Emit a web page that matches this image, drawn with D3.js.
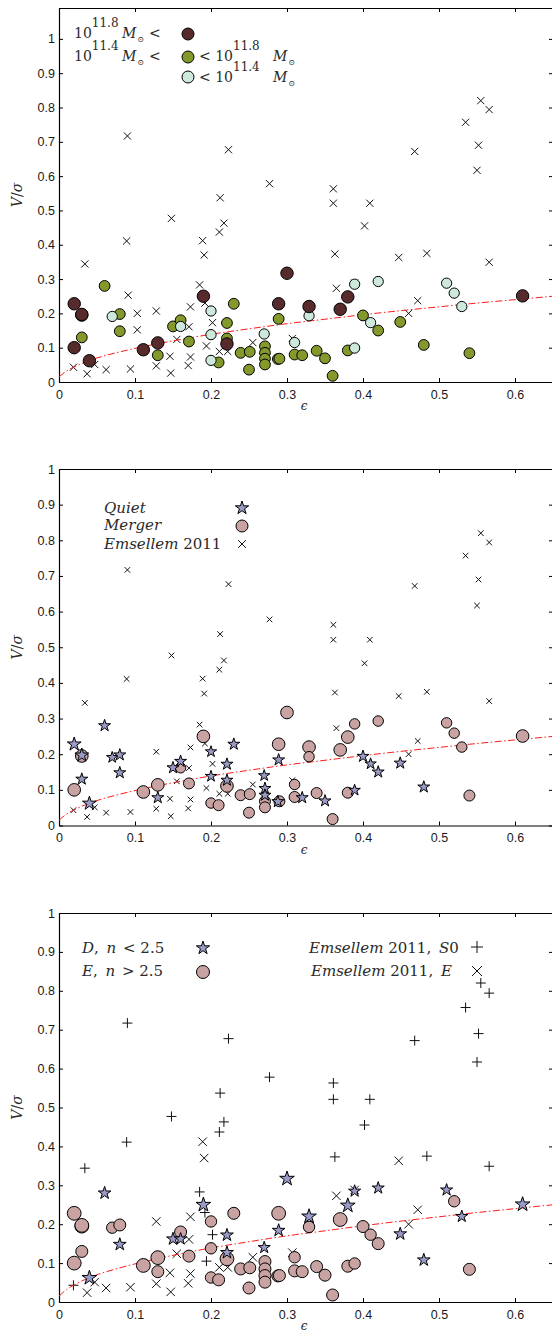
<!DOCTYPE html>
<html>
<head>
<meta charset="utf-8">
<script src="https://cdn.jsdelivr.net/npm/d3@7"></script>
<style>
  body { margin: 0; background: #fff; }
  svg { display: block; }
  .axis text { font-family: "Liberation Sans", Arial, sans-serif; font-size: 12.5px; fill: #1a1a1a; }
  .axis path, .axis line { stroke: #000; }
  .math { font-family: "DejaVu Serif", serif; fill: #2a2a2a; }
</style>
</head>
<body>
<script>
const W = 552, H = 1336;
const LEFT = 59, RIGHT = 553;

// simulated galaxies: ellipticity, V/sigma, stellar mass class, merger flag, disk (n < 2.5) flag
const simEps = [0.020, 0.030, 0.030, 0.020, 0.030, 0.040, 0.060, 0.070, 0.080, 0.080,
  0.111, 0.130, 0.130, 0.150, 0.160, 0.160, 0.171, 0.190, 0.200, 0.200,
  0.200, 0.210, 0.221, 0.221, 0.221, 0.230, 0.239, 0.251, 0.250, 0.270,
  0.271, 0.271, 0.271, 0.271, 0.289, 0.289, 0.288, 0.290, 0.300, 0.310,
  0.310, 0.320, 0.329, 0.329, 0.339, 0.350, 0.360, 0.370, 0.380, 0.380,
  0.389, 0.389, 0.400, 0.410, 0.420, 0.420, 0.449, 0.480, 0.510, 0.520,
  0.530, 0.540, 0.610];
const simVs = [0.228, 0.195, 0.197, 0.100, 0.130, 0.062, 0.280, 0.191, 0.198, 0.148,
  0.094, 0.114, 0.078, 0.162, 0.162, 0.180, 0.118, 0.250, 0.207, 0.138,
  0.063, 0.057, 0.172, 0.127, 0.111, 0.228, 0.085, 0.088, 0.036, 0.140,
  0.104, 0.085, 0.068, 0.051, 0.228, 0.184, 0.067, 0.068, 0.317, 0.115,
  0.080, 0.078, 0.220, 0.193, 0.091, 0.069, 0.018, 0.212, 0.248, 0.092,
  0.285, 0.099, 0.194, 0.173, 0.293, 0.150, 0.175, 0.108, 0.288, 0.259,
  0.220, 0.084, 0.251];
// 2: > 10^11.8, 1: 10^11.4 - 10^11.8, 0: < 10^11.4
const simMass = [2, 2, 2, 2, 1, 2, 1, 0, 1, 1,
  2, 2, 1, 1, 0, 1, 1, 2, 0, 0,
  0, 1, 1, 1, 2, 1, 1, 1, 1, 0,
  1, 1, 1, 1, 2, 1, 1, 1, 2, 0,
  1, 1, 2, 0, 1, 1, 1, 2, 2, 1,
  0, 0, 1, 0, 0, 1, 1, 1, 0, 0,
  0, 1, 2];
const simMerger = [0, 1, 0, 1, 0, 0, 0, 0, 0, 0,
  1, 1, 0, 0, 1, 0, 1, 1, 0, 0,
  1, 1, 0, 0, 1, 0, 1, 1, 1, 0,
  0, 0, 1, 1, 1, 0, 0, 1, 1, 1,
  1, 0, 1, 1, 1, 0, 1, 1, 1, 1,
  1, 0, 0, 0, 1, 0, 0, 0, 1, 1,
  1, 1, 1];
const simDisk = [0, 0, 0, 0, 0, 1, 1, 0, 0, 1,
  0, 0, 0, 1, 1, 0, 0, 1, 0, 0,
  0, 0, 1, 1, 0, 0, 0, 0, 0, 1,
  0, 0, 0, 0, 0, 1, 0, 0, 1, 0,
  0, 0, 1, 0, 0, 0, 0, 0, 1, 0,
  1, 0, 0, 0, 1, 0, 1, 1, 1, 0,
  1, 0, 1];

// Emsellem et al. 2011 (ATLAS3D)
const emsEps = [0.090, 0.223, 0.277, 0.212, 0.555, 0.566, 0.535, 0.468, 0.552, 0.550,
  0.361, 0.361, 0.409, 0.402, 0.363, 0.484, 0.566, 0.148, 0.217, 0.211,
  0.089, 0.034, 0.185, 0.192, 0.202, 0.194, 0.019,
  0.189, 0.191, 0.447, 0.365, 0.472, 0.460, 0.389, 0.307, 0.173, 0.128,
  0.171, 0.155, 0.146, 0.173, 0.170, 0.128, 0.147, 0.094, 0.062, 0.047,
  0.037, 0.211, 0.222, 0.255];
const emsVs = [0.717, 0.677, 0.578, 0.537, 0.820, 0.794, 0.757, 0.672, 0.690, 0.617,
  0.563, 0.521, 0.521, 0.455, 0.373, 0.375, 0.349, 0.477, 0.463, 0.437,
  0.411, 0.344, 0.283, 0.230, 0.173, 0.105, 0.043,
  0.412, 0.370, 0.363, 0.273, 0.237, 0.200, 0.288, 0.127, 0.219, 0.207,
  0.161, 0.124, 0.075, 0.073, 0.048, 0.047, 0.026, 0.038, 0.036, 0.051,
  0.024, 0.089, 0.089, 0.115];
const emsType = ['S0', 'S0', 'S0', 'S0', 'S0', 'S0', 'S0', 'S0', 'S0', 'S0',
  'S0', 'S0', 'S0', 'S0', 'S0', 'S0', 'S0', 'S0', 'S0', 'S0',
  'S0', 'S0', 'S0', 'S0', 'S0', 'S0', 'S0',
  'E', 'E', 'E', 'E', 'E', 'E', 'E', 'E', 'E', 'E',
  'E', 'E', 'E', 'E', 'E', 'E', 'E', 'E', 'E', 'E',
  'E', 'E', 'E', 'E'];

// extra crosses only present in the top panel
const topExtraEps = [0.091, 0.103, 0.103];
const topExtraVs = [0.253, 0.200, 0.152];

// red dash-dot reference curve
const lineEps = [0, 0.005, 0.01, 0.02, 0.03, 0.05, 0.075, 0.1, 0.15, 0.2, 0.25, 0.3, 0.35, 0.4, 0.45, 0.5, 0.55, 0.6, 0.65];
const lineVs = [0.015, 0.024, 0.032, 0.044, 0.054, 0.07, 0.085, 0.098, 0.12, 0.139, 0.155, 0.17, 0.183, 0.196, 0.208, 0.219, 0.23, 0.24, 0.25];

const xTicks = [0, 0.1, 0.2, 0.3, 0.4, 0.5, 0.6];
const yTicks = [0, 0.1, 0.2, 0.3, 0.4, 0.5, 0.6, 0.7, 0.8, 0.9, 1];

const MASS_COLORS = ['#cde9dc', '#84992b', '#572b2b'];
const MASS_SCALE = [0.95, 1, 1.15];
const STAR_COLOR = '#9a9bc6';
const MERGER_COLOR = '#c9a2a2';

const sims = simEps.map((e, i) => ({
  eps: e, v: simVs[i], mass: simMass[i], merger: simMerger[i], disk: simDisk[i],
}));
const ems = emsEps.map((e, i) => ({ eps: e, v: emsVs[i], type: emsType[i] }));
const topExtra = topExtraEps.map((e, i) => ({ eps: e, v: topExtraVs[i], type: 'E' }));
const curve = lineEps.map((e, i) => ({ eps: e, v: lineVs[i] }));

const svg = d3.select('body').append('svg')
  .attr('width', W).attr('height', H)
  .attr('viewBox', `0 0 ${W} ${H}`);

svg.append('rect').attr('width', W).attr('height', H).attr('fill', '#fff');

function crossPath(a) {
  return `M${-a},${-a}L${a},${a}M${-a},${a}L${a},${-a}`;
}
function plusPath(a) {
  return `M${-a},0H${a}M0,${-a}V${a}`;
}
function starPath(r) {
  return d3.symbol(d3.symbolStar, (r * r) / 0.8908130915292852)();
}

function drawFrame(top, bottom, yMax) {
  const x = d3.scaleLinear().domain([0, 0.65]).range([LEFT, RIGHT]);
  const y = d3.scaleLinear().domain([0, yMax]).range([bottom, top]);
  const fmt = d => (d === 0 ? '0' : d === 1 ? '1' : d.toFixed(1));

  svg.append('g')
    .attr('class', 'axis')
    .attr('transform', `translate(0,${bottom})`)
    .call(d3.axisBottom(x).tickValues(xTicks).tickFormat(fmt).tickSizeInner(-4).tickSizeOuter(0).tickPadding(5))
    .call(g => g.selectAll('text').attr('dy', '0.95em'));

  svg.append('g')
    .attr('class', 'axis')
    .attr('transform', `translate(${LEFT},0)`)
    .call(d3.axisLeft(y).tickValues(yTicks).tickFormat(fmt).tickSizeInner(-4).tickSizeOuter(0).tickPadding(4));

  svg.append('g')
    .attr('class', 'axis')
    .attr('transform', `translate(0,${top})`)
    .call(d3.axisTop(x).tickValues(xTicks).tickFormat('').tickSizeInner(-4).tickSizeOuter(0));

  svg.append('g')
    .attr('class', 'axis')
    .attr('transform', `translate(${RIGHT},0)`)
    .call(d3.axisRight(y).tickValues(yTicks).tickFormat('').tickSizeInner(-4).tickSizeOuter(0));

  svg.selectAll('.axis path').attr('stroke-width', 1.2);

  // axis titles
  svg.append('text')
    .attr('class', 'math')
    .attr('x', (LEFT + RIGHT) / 2 - 2)
    .attr('y', bottom + 28)
    .attr('text-anchor', 'middle')
    .attr('font-size', 12)
    .attr('font-style', 'italic')
    .text('ϵ');

  const yl = svg.append('text')
    .attr('class', 'math')
    .attr('transform', `translate(22,${(top + bottom) / 2}) rotate(-90)`)
    .attr('text-anchor', 'middle')
    .attr('font-size', 14);
  yl.append('tspan').attr('font-style', 'italic').text('V');
  yl.append('tspan').text('/');
  yl.append('tspan').attr('font-style', 'italic').text('σ');

  return { x, y };
}

function drawCurve(x, y) {
  const line = d3.line().x(d => x(d.eps)).y(d => y(d.v)).curve(d3.curveMonotoneX);
  svg.append('path')
    .datum(curve)
    .attr('fill', 'none')
    .attr('stroke', '#ff1a1a')
    .attr('stroke-width', 1)
    .attr('stroke-dasharray', '7,2.5,1.5,2.5')
    .attr('d', line);
}

function drawMarks(data, x, y, pathFn, cls) {
  svg.append('g').attr('class', cls)
    .selectAll('path')
    .data(data)
    .join('path')
    .attr('transform', d => `translate(${x(d.eps)},${y(d.v)})`)
    .attr('d', pathFn)
    .attr('fill', 'none')
    .attr('stroke', '#111')
    .attr('stroke-width', 1);
}

function drawCircles(data, x, y, rFn, fillFn) {
  svg.append('g')
    .selectAll('circle')
    .data(data)
    .join('circle')
    .attr('cx', d => x(d.eps))
    .attr('cy', d => y(d.v))
    .attr('r', rFn)
    .attr('fill', fillFn)
    .attr('stroke', '#000')
    .attr('stroke-width', 1);
}

function drawStars(data, x, y, rFn) {
  svg.append('g')
    .selectAll('path')
    .data(data)
    .join('path')
    .attr('transform', d => `translate(${x(d.eps)},${y(d.v)})`)
    .attr('d', d => starPath(rFn(d)))
    .attr('fill', STAR_COLOR)
    .attr('stroke', '#000')
    .attr('stroke-width', 1)
    .attr('stroke-linejoin', 'miter');
}

function mathText(x, y, size, parts) {
  const t = svg.append('text').attr('class', 'math').attr('x', x).attr('y', y).attr('font-size', size);
  parts.forEach(p => {
    const s = t.append('tspan').text(p.t);
    if (p.i) s.attr('font-style', 'italic');
    if (p.dy) s.attr('dy', p.dy);
    if (p.fs) s.attr('font-size', p.fs);
    if (p.dx) s.attr('dx', p.dx);
  });
  return t;
}

// ---------- Panel 1: coloured by stellar mass ----------
{
  const { x, y } = drawFrame(8, 382, 1.09);
  drawMarks(ems.concat(topExtra), x, y, () => crossPath(3.6), 'ems');
  drawCurve(x, y);
  const order = [1, 0, 2];
  order.forEach(m => {
    drawCircles(sims.filter(d => d.mass === m), x, y, d => 5.4 * MASS_SCALE[d.mass], d => MASS_COLORS[d.mass]);
  });

  // legend
  const sun = [{ t: 'M', i: true }, { t: '⊙', fs: 8, dy: 4, dx: 1 }];
  mathText(74, 38, 14, [{ t: '10' }, { t: '11.8', fs: 12, dy: -11 }]);
  mathText(122, 38, 14, [...sun, { t: '<', dy: -4, dx: 5 }]);
  svg.append('circle').attr('cx', 188).attr('cy', 34).attr('r', 6).attr('fill', MASS_COLORS[2]).attr('stroke', '#000');

  mathText(74, 61, 14, [{ t: '10' }, { t: '11.4', fs: 12, dy: -11 }]);
  mathText(122, 61, 14, [...sun, { t: '<', dy: -4, dx: 5 }]);
  svg.append('circle').attr('cx', 188).attr('cy', 57).attr('r', 6).attr('fill', MASS_COLORS[1]).attr('stroke', '#000');
  mathText(199, 61, 14, [{ t: '< 10' }, { t: '11.8', fs: 12, dy: -11 }]);
  mathText(273, 61, 14, sun);

  svg.append('circle').attr('cx', 188).attr('cy', 77).attr('r', 6).attr('fill', MASS_COLORS[0]).attr('stroke', '#000');
  mathText(199, 82, 14, [{ t: '< 10' }, { t: '11.4', fs: 12, dy: -11 }]);
  mathText(273, 82, 14, sun);
}

// ---------- Panel 2: quiet vs merger ----------
{
  const { x, y } = drawFrame(469, 825.5, 1);
  drawMarks(ems, x, y, () => crossPath(2.8), 'ems');
  drawCurve(x, y);
  drawCircles(sims.filter(d => d.merger === 1), x, y, d => 5.5 * MASS_SCALE[d.mass], () => MERGER_COLOR);
  drawStars(sims.filter(d => d.merger === 0), x, y, d => 6.3 * MASS_SCALE[d.mass]);

  mathText(104, 513, 15, [{ t: 'Quiet', i: true }]);
  mathText(104, 530, 15, [{ t: 'Merger', i: true }]);
  mathText(104, 549, 15, [{ t: 'Emsellem', i: true }, { t: ' 2011' }]);
  svg.append('path').attr('transform', 'translate(242,508)').attr('d', starPath(7)).attr('fill', STAR_COLOR).attr('stroke', '#000');
  svg.append('circle').attr('cx', 242).attr('cy', 526).attr('r', 6).attr('fill', MERGER_COLOR).attr('stroke', '#000');
  svg.append('path').attr('transform', 'translate(242,544)').attr('d', crossPath(3.8)).attr('stroke', '#111').attr('fill', 'none');
}

// ---------- Panel 3: disk vs elliptical ----------
{
  const { x, y } = drawFrame(913, 1302, 1);
  drawMarks(ems.filter(d => d.type === 'S0'), x, y, () => plusPath(5), 'ems-s0');
  drawMarks(ems.filter(d => d.type === 'E'), x, y, () => crossPath(4.2), 'ems-e');
  drawCurve(x, y);
  drawCircles(sims.filter(d => d.disk === 0), x, y, d => 6 * MASS_SCALE[d.mass], () => MERGER_COLOR);
  drawStars(sims.filter(d => d.disk === 1), x, y, d => 6.7 * MASS_SCALE[d.mass]);

  mathText(82, 953, 15, [{ t: 'D', i: true }, { t: ', ' }, { t: 'n', i: true, dx: 3 }, { t: ' <  2.5', dx: 2 }]);
  mathText(82, 976, 15, [{ t: 'E', i: true }, { t: ', ' }, { t: 'n', i: true, dx: 3 }, { t: ' >  2.5', dx: 2 }]);
  svg.append('path').attr('transform', 'translate(203,948)').attr('d', starPath(7)).attr('fill', STAR_COLOR).attr('stroke', '#000');
  svg.append('circle').attr('cx', 203).attr('cy', 972).attr('r', 6.5).attr('fill', MERGER_COLOR).attr('stroke', '#000');

  mathText(309, 953, 15, [{ t: 'Emsellem', i: true }, { t: ' 2011, ' }, { t: 'S', i: true, dx: 3 }, { t: '0' }]);
  mathText(311, 976, 15, [{ t: 'Emsellem', i: true }, { t: ' 2011, ' }, { t: 'E', i: true, dx: 3 }]);
  svg.append('path').attr('transform', 'translate(477,947)').attr('d', plusPath(6)).attr('stroke', '#111').attr('fill', 'none');
  svg.append('path').attr('transform', 'translate(477,971)').attr('d', crossPath(5)).attr('stroke', '#111').attr('fill', 'none');
}
</script>
</body>
</html>
